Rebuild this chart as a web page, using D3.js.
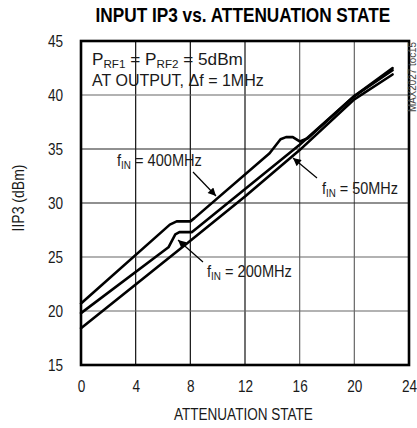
<!DOCTYPE html>
<html><head><meta charset="utf-8">
<script src="https://cdn.jsdelivr.net/npm/d3@7"></script>
<style>body{margin:0;background:#fff}svg{display:block}text{font-family:"Liberation Sans",Arial,sans-serif}</style>
</head><body>
<script>
const xTicks = [0,4,8,12,16,20,24];
const yTicks = [15,20,25,30,35,40,45];
const f400x = [0, 6.5, 7.0, 8.0, 8.3, 13.8, 14.6, 15.0, 15.5, 16.0, 16.6, 20, 22.8];
const f400y = [20.7, 28.0, 28.3, 28.3, 28.6, 34.6, 35.9, 36.1, 36.1, 35.7, 36.0, 39.9, 42.5];
const f200x = [0, 6.4, 6.9, 7.2, 8.1, 8.4, 16, 20, 22.8];
const f200y = [19.8, 25.9, 27.1, 27.3, 27.3, 27.6, 35.4, 39.9, 42.3];
const f50x = [0, 8, 12, 16, 20, 22.8];
const f50y = [18.4, 26.5, 30.6, 34.9, 39.6, 41.9];

const W=417,H=428;
const svg=d3.select("body").append("svg").attr("width",W).attr("height",H);
const L=81,R=409,T=41,B=365;
const x=d3.scaleLinear().domain([0,24]).range([L,R]);
const y=d3.scaleLinear().domain([15,45]).range([B,T]);
const TXT="#1a1a1a";
const SX=0.8;

// grid
const g=svg.append("g");
g.selectAll(".vx").data(xTicks.slice(1,-1)).enter().append("line")
 .attr("x1",d=>x(d)).attr("x2",d=>x(d)).attr("y1",T).attr("y2",B)
 .attr("stroke",d=>d<=12?"#111":"#666").attr("stroke-width",1.2);
g.selectAll(".hy").data(yTicks.slice(1,-1)).enter().append("line")
 .attr("y1",d=>y(d)).attr("y2",d=>y(d)).attr("x1",L).attr("x2",R)
 .attr("stroke",d=>d>=30&&d<=35?"#222":"#666").attr("stroke-width",1.2);

// axes labels
const xa=svg.append("g").attr("transform",`translate(0,${B})`)
 .call(d3.axisBottom(x).tickValues(xTicks).tickSize(0).tickPadding(15));
xa.select(".domain").remove();
xa.attr("font-family",null).attr("font-size",null);
xa.selectAll("text").attr("font-size",17).attr("fill",TXT).attr("transform",`scale(${SX},1)`);
const ya=svg.append("g").attr("transform",`translate(${L},0)`)
 .call(d3.axisLeft(y).tickValues(yTicks).tickSize(0).tickPadding(18/SX));
ya.select(".domain").remove();
ya.attr("font-family",null).attr("font-size",null);
ya.selectAll("text").attr("font-size",17).attr("fill",TXT).attr("transform",`scale(${SX},1)`);

// curves
const line=d3.line().x(d=>x(d[0])).y(d=>y(d[1])).curve(d3.curveLinear);
[[f400x,f400y],[f200x,f200y],[f50x,f50y]].forEach(([xs,ys])=>{
  svg.append("path").datum(xs.map((v,i)=>[v,ys[i]])).attr("d",line)
   .attr("fill","none").attr("stroke","#000").attr("stroke-width",2.6)
   .attr("stroke-linejoin","round").attr("stroke-linecap","round");
});

// frame
svg.append("rect").attr("x",L).attr("y",T).attr("width",R-L).attr("height",B-T)
 .attr("fill","none").attr("stroke","#000").attr("stroke-width",2.6);

// rich text: parts [[str, isSub]], fit to width
function rich(xp,yp,parts,width,anchor,size,bold,fill){
  size=size||17;
  const grp=svg.append("g");
  const inner=grp.append("g");
  let cx=0;
  parts.forEach(([s,sub])=>{
    const t=inner.append("text").attr("x",cx).attr("y",sub?3:0)
      .attr("font-size",sub?11.5:size).attr("fill",fill||TXT)
      .attr("font-weight",bold?"bold":null)
      .style("white-space","pre").text(s);
    cx+=t.node().getComputedTextLength();
  });
  const k=width/cx;
  const x0=anchor==="end"?xp-width:anchor==="middle"?xp-width/2:xp;
  grp.attr("transform",`translate(${x0},${yp}) scale(${k},1)`);
  return grp;
}

// title
rich(243,22,[["INPUT IP3 vs. ATTENUATION STATE"]],295,"middle",19.5,true,"#000");

// axis titles
rich(243.5,420,[["ATTENUATION STATE"]],139,"middle",16.5);
svg.append("g").attr("transform","translate(24,198) rotate(-90)").append("text")
 .attr("text-anchor","middle").attr("font-size",16.5).attr("fill",TXT)
 .attr("textLength",67).attr("lengthAdjust","spacingAndGlyphs").text("IIP3 (dBm)");

// annotations
rich(92,64.5,[["P"],["RF1",1],[" = P"],["RF2",1],[" = 5dBm"]],151);
rich(92,85.5,[["AT OUTPUT, \u0394f = 1MHz"]],172);
rich(117,166,[["f"],["IN",1],[" = 400MHz"]],85);
rich(398,194,[["f"],["IN",1],[" = 50MHz"]],76,"end");
rich(207,277,[["f"],["IN",1],[" = 200MHz"]],85);

// arrows
const defs=svg.append("defs");
defs.append("marker").attr("id","ah").attr("viewBox","0 0 10 10").attr("refX",10).attr("refY",5)
 .attr("markerWidth",13).attr("markerHeight",8).attr("orient","auto").attr("markerUnits","userSpaceOnUse")
 .append("path").attr("d","M0,0L10,5L0,10z").attr("fill","#000");
const arrows=[[193,172,216,196],[317,178,293,158],[203,262,178,240]];
arrows.forEach(a=>svg.append("line").attr("x1",a[0]).attr("y1",a[1]).attr("x2",a[2]).attr("y2",a[3])
 .attr("stroke","#000").attr("stroke-width",1.2).attr("marker-end","url(#ah)"));

// watermark
svg.append("text").attr("transform","translate(416,42) rotate(-90)").attr("text-anchor","end").attr("font-size",10).attr("fill","#444")
 .attr("textLength",70).attr("lengthAdjust","spacingAndGlyphs").text("MAX2027 toc15");
</script>
</body></html>
